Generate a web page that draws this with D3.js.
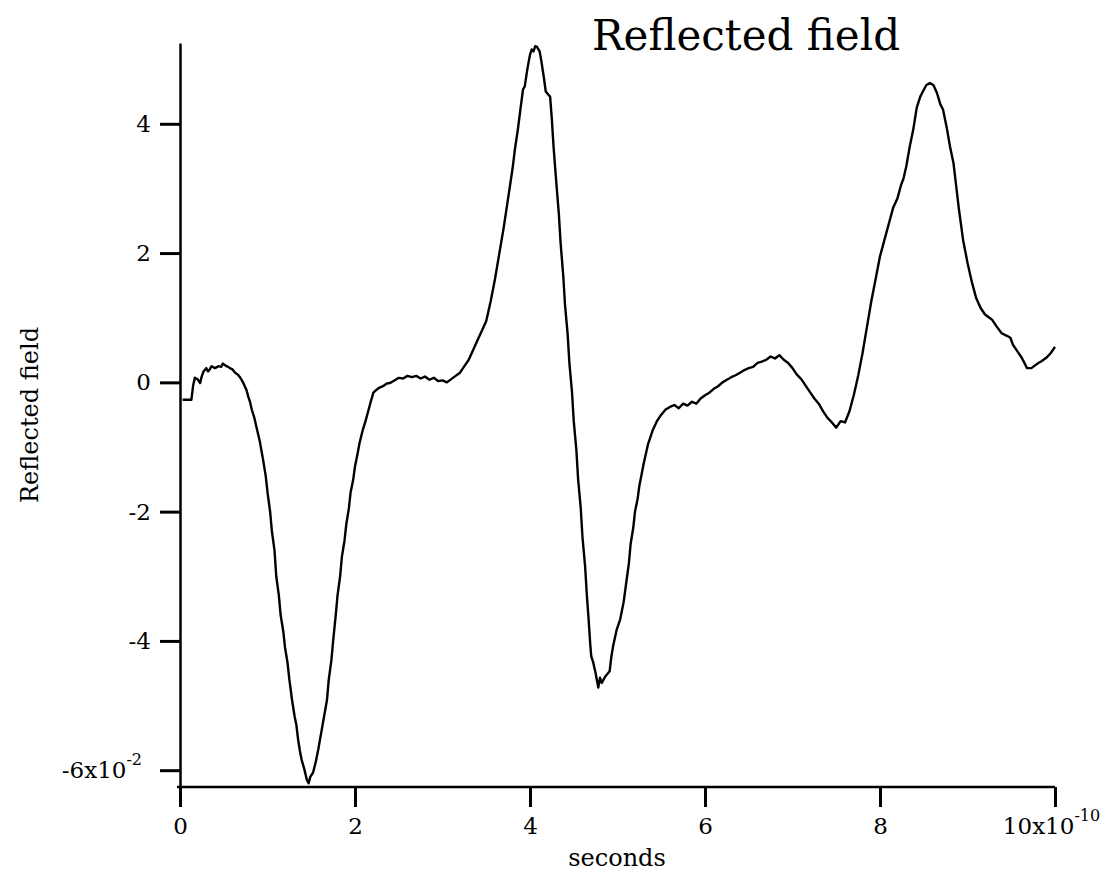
<!DOCTYPE html>
<html>
<head>
<meta charset="utf-8">
<script src="https://cdn.jsdelivr.net/npm/d3@7"></script>
<style>
  body { margin: 0; background: #fff; }
  svg { display: block; }
  text { font-family: "DejaVu Serif", "Liberation Serif", serif; fill: #000; }
</style>
</head>
<body>
<script>

// time in units of 1e-10 s
const times = [
  0.03, 0.13, 0.15, 0.17, 0.2, 0.23, 0.25, 0.27, 0.3, 0.32, 0.34, 0.36, 0.4, 0.44, 0.47, 0.49,
  0.52, 0.55, 0.57, 0.6, 0.63, 0.66, 0.69, 0.72, 0.74, 0.76, 0.78, 0.8, 0.82, 0.85, 0.88, 0.91,
  0.95, 0.98, 1.0, 1.03, 1.05, 1.08, 1.1, 1.13, 1.15, 1.18, 1.2, 1.23, 1.25, 1.28, 1.31, 1.33,
  1.35, 1.37, 1.39, 1.42, 1.45, 1.47, 1.49, 1.52, 1.55, 1.58, 1.61, 1.64, 1.68, 1.7, 1.73, 1.75,
  1.78, 1.8, 1.83, 1.85, 1.88, 1.9, 1.93, 1.95, 1.98, 2.0, 2.03, 2.05, 2.09, 2.12, 2.15, 2.18,
  2.21, 2.25, 2.28, 2.32, 2.36, 2.4, 2.45, 2.5, 2.55, 2.6, 2.65, 2.7, 2.75, 2.8, 2.85, 2.9,
  2.95, 3.0, 3.05, 3.1, 3.15, 3.2, 3.25, 3.3, 3.35, 3.4, 3.45, 3.5, 3.55, 3.6, 3.65, 3.7,
  3.75, 3.8, 3.83, 3.86, 3.89, 3.92, 3.94, 3.97, 4.0, 4.02, 4.04, 4.06, 4.08, 4.11, 4.13, 4.16,
  4.18, 4.21, 4.23, 4.25, 4.27, 4.3, 4.33, 4.35, 4.38, 4.4, 4.43, 4.45, 4.48, 4.5, 4.53, 4.55,
  4.58, 4.6, 4.63, 4.65, 4.67, 4.69, 4.7, 4.72, 4.75, 4.78, 4.8, 4.82, 4.86, 4.91, 4.93, 4.95,
  4.99, 5.03, 5.07, 5.1, 5.13, 5.15, 5.18, 5.2, 5.23, 5.25, 5.3, 5.35, 5.4, 5.45, 5.5, 5.55,
  5.6, 5.65, 5.7, 5.75, 5.8, 5.85, 5.9, 5.95, 6.0, 6.05, 6.1, 6.15, 6.2, 6.25, 6.3, 6.35,
  6.4, 6.45, 6.5, 6.55, 6.6, 6.65, 6.7, 6.75, 6.8, 6.85, 6.9, 6.95, 7.0, 7.05, 7.1, 7.15,
  7.2, 7.25, 7.3, 7.35, 7.4, 7.45, 7.5, 7.55, 7.6, 7.65, 7.7, 7.75, 7.8, 7.85, 7.9, 7.95,
  8.0, 8.05, 8.1, 8.15, 8.2, 8.24, 8.27, 8.3, 8.34, 8.38, 8.42, 8.46, 8.49, 8.53, 8.57, 8.61,
  8.65, 8.69, 8.72, 8.76, 8.8, 8.84, 8.86, 8.9, 8.95, 9.0, 9.05, 9.1, 9.15, 9.2, 9.25, 9.28,
  9.33, 9.39, 9.45, 9.49, 9.52, 9.58, 9.62, 9.68, 9.73, 9.78, 9.81, 9.85, 9.9, 9.95, 10.0
];

// reflected field in units of 1e-2
const field = [
  -0.27, -0.27, -0.05, 0.07, 0.05, -0.01, 0.1, 0.17, 0.22, 0.17, 0.2, 0.25, 0.22, 0.25, 0.24, 0.29,
  0.26, 0.24, 0.22, 0.2, 0.15, 0.12, 0.07, 0.0, -0.06, -0.12, -0.22, -0.3, -0.42, -0.55, -0.73, -0.9,
  -1.2, -1.45, -1.7, -2.0, -2.3, -2.6, -3.0, -3.3, -3.6, -3.85, -4.1, -4.35, -4.6, -4.91, -5.17, -5.3,
  -5.53, -5.7, -5.84, -5.98, -6.15, -6.2, -6.1, -6.04, -5.88, -5.68, -5.45, -5.22, -4.91, -4.6, -4.3, -4.0,
  -3.6, -3.3, -3.0, -2.7, -2.45, -2.2, -1.95, -1.7, -1.5, -1.3, -1.1, -0.95, -0.73, -0.6, -0.45, -0.3,
  -0.16, -0.11, -0.08, -0.06, -0.02, -0.01, 0.03, 0.07, 0.06, 0.1, 0.08, 0.1, 0.06, 0.09, 0.04, 0.07,
  0.02, 0.03, 0.0, 0.05, 0.1, 0.15, 0.25, 0.35, 0.5, 0.65, 0.8, 0.95, 1.25, 1.6, 2.0, 2.4,
  2.85, 3.3, 3.63, 3.9, 4.22, 4.53, 4.58, 4.85, 5.07, 5.15, 5.12, 5.2, 5.19, 5.12, 4.97, 4.7,
  4.5, 4.45, 4.42, 4.06, 3.63, 3.1, 2.6, 2.15, 1.65, 1.2, 0.75, 0.3, -0.15, -0.6, -1.05, -1.5,
  -1.95, -2.4, -2.85, -3.3, -3.67, -4.08, -4.24, -4.32, -4.5, -4.72, -4.57, -4.65, -4.55, -4.47, -4.24, -4.08,
  -3.83, -3.67, -3.4, -3.1, -2.8, -2.5, -2.25, -2.0, -1.8, -1.6, -1.25, -0.95, -0.75, -0.6, -0.5, -0.42,
  -0.38, -0.35, -0.4, -0.33, -0.36, -0.3, -0.33, -0.25, -0.2, -0.16, -0.1, -0.06, 0.0, 0.04, 0.08, 0.11,
  0.15, 0.19, 0.22, 0.24, 0.3, 0.32, 0.35, 0.4, 0.37, 0.42, 0.35, 0.3, 0.22, 0.12, 0.05, -0.05,
  -0.15, -0.25, -0.33, -0.45, -0.55, -0.62, -0.7, -0.6, -0.62, -0.45, -0.2, 0.1, 0.45, 0.85, 1.25, 1.6,
  1.95, 2.2, 2.45, 2.7, 2.85, 3.05, 3.16, 3.34, 3.65, 3.91, 4.25, 4.42, 4.5, 4.6, 4.63, 4.6,
  4.48, 4.3, 4.22, 3.96, 3.65, 3.39, 3.16, 2.7, 2.2, 1.85, 1.55, 1.3, 1.15, 1.05, 1.0, 0.97,
  0.87, 0.76, 0.72, 0.69, 0.58, 0.46, 0.38, 0.22, 0.22, 0.27, 0.3, 0.33, 0.38, 0.45, 0.55
];

const xTicks = [0, 2, 4, 6, 8, 10];
const yTicks = [-6, -4, -2, 0, 2, 4];

const WIDTH = 1107,
      HEIGHT = 887;

const svg = d3.select('body').append('svg')
  .attr('width', WIDTH)
  .attr('height', HEIGHT);

const x = d3.scaleLinear().domain([0, 10]).range([180, 1055]);
const y = d3.scaleLinear().domain([-6.26, 5.25]).range([787, 43]);

// axes
const xAxis = svg.append('g')
  .attr('transform', 'translate(0, 787)')
  .call(d3.axisBottom(x).tickValues(xTicks).tickSize(20).tickSizeOuter(0).tickPadding(11)
    .tickFormat((d) => d));

const yAxis = svg.append('g')
  .attr('transform', 'translate(180, 0)')
  .call(d3.axisLeft(y).tickValues(yTicks).tickSize(20).tickSizeOuter(0).tickPadding(9)
    .tickFormat((d) => d));

[xAxis, yAxis].forEach((g) => {
  g.select('.domain').attr('stroke', '#000').attr('stroke-width', 2.5);
  g.selectAll('.tick line').attr('stroke', '#000').attr('stroke-width', 3);
  g.selectAll('.tick text')
    .style('font-family', '"DejaVu Serif", serif')
    .style('font-size', '23px')
    .attr('fill', '#000');
});

// join the axes at the corner
xAxis.select('.domain').attr('d', `M${177},0H${1055}`);

// exponent labels
const addExponent = (sel, base, exp) => {
  sel.text(null);
  sel.append('tspan').text(base);
  sel.append('tspan').attr('dy', '-13px').style('font-size', '16px').text(exp);
};

yAxis.selectAll('.tick text').filter((d) => d === -6)
  .call(addExponent, '-6x10', '-2')
  .attr('x', -38);

xAxis.selectAll('.tick text').filter((d) => d === 10)
  .call(addExponent, '10x10', '-10')
  .attr('text-anchor', 'middle')
  .attr('x', -4);

// the trace
const line = d3.line()
  .x((d) => x(d[0]))
  .y((d) => y(d[1]));

svg.append('path')
  .datum(d3.zip(times, field))
  .attr('fill', 'none')
  .attr('stroke', '#000')
  .attr('stroke-width', 2.4)
  .attr('stroke-linejoin', 'round')
  .attr('d', line);

// titles
svg.append('text')
  .attr('x', 592)
  .attr('y', 50)
  .style('font-size', '42px')
  .text('Reflected field');

svg.append('text')
  .attr('x', 617)
  .attr('y', 866)
  .attr('text-anchor', 'middle')
  .style('font-size', '24px')
  .text('seconds');

svg.append('text')
  .attr('transform', 'translate(38, 415) rotate(-90)')
  .attr('text-anchor', 'middle')
  .style('font-size', '24px')
  .text('Reflected field');

</script>
</body>
</html>
